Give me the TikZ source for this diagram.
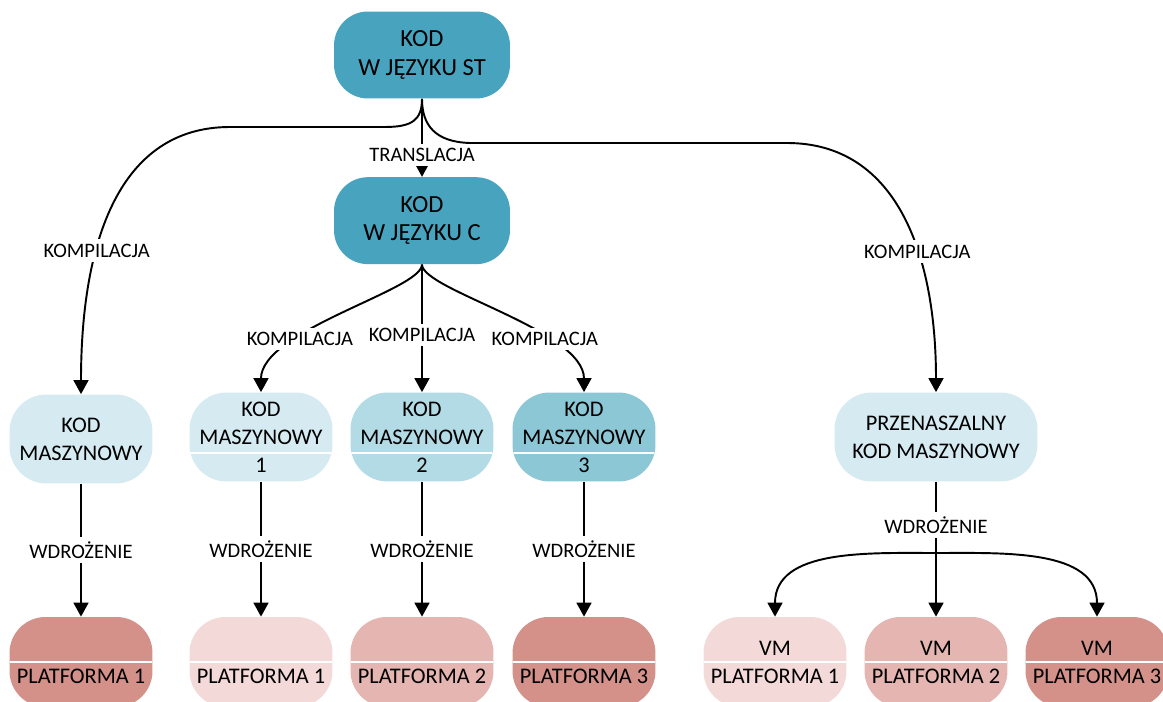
\documentclass[tikz,border=0pt]{standalone}
\usepackage{fontspec}
\setmainfont{Carlito}
\usetikzlibrary{calc, positioning, arrows.meta}

\definecolor{stteal}{HTML}{48A3BE}
\definecolor{mcodeA}{HTML}{D5EAF1}
\definecolor{mcodeB}{HTML}{B3DBE5}
\definecolor{mcodeC}{HTML}{8CC7D6}
\definecolor{platA}{HTML}{F3D9D8}
\definecolor{platB}{HTML}{E4B5B1}
\definecolor{platC}{HTML}{D3918A}

\begin{document}
\begin{tikzpicture}[
    x=0.02cm, y=-0.02cm,
    source/.style={
        rectangle,
        rounded corners=0.68cm,
        fill=stteal,
        minimum width=3.52cm,
        minimum height=1.74cm,
        font=\fontsize{14}{16}\selectfont,
        align=center
    },
    mcode/.style={
        rectangle,
        rounded corners=0.74cm,
        minimum width=2.86cm,
        minimum height=1.78cm,
        font=\fontsize{12.7}{16}\selectfont,
        align=center
    },
    platform/.style={
        rectangle,
        rounded corners=0.72cm,
        minimum width=2.86cm,
        minimum height=1.8cm,
        font=\fontsize{12.7}{16}\selectfont,
        align=center
    },
    divider/.style={
        path picture={\draw[white, line width=1.3pt]
            ([yshift=#1]path picture bounding box.west) --
            ([yshift=#1]path picture bounding box.east);}
    },
    lbl/.style={fill=white, inner sep=2.5pt, font=\fontsize{11.7}{14}\selectfont},
    flow/.style={->, >={Triangle[width=8.5pt,length=8pt]}, line width=1.1pt}
]
\useasboundingbox (0,0) rectangle (1163,702);
\clip (0,0) rectangle (1163,702);

% Source code
\node[source] (st) at (422,55) {KOD\\W JĘZYKU ST};
\node[source, below=1.56cm of st] (cc) {KOD\\W JĘZYKU C};

% Machine code
\node[mcode, fill=mcodeA] (km0) at (81,439) {KOD\\MASZYNOWY};
\node[mcode, fill=mcodeA, divider=-0.32cm] (km1) at (261,437) {KOD\\MASZYNOWY\\1};
\node[mcode, fill=mcodeB, divider=-0.32cm] (km2) at (422,437) {KOD\\MASZYNOWY\\2};
\node[mcode, fill=mcodeC, divider=-0.32cm] (km3) at (584,437) {KOD\\MASZYNOWY\\3};
\node[mcode, fill=mcodeA, minimum width=4.06cm] (pm) at (936,437) {PRZENASZALNY\\KOD MASZYNOWY};

% Platforms
\node[platform, fill=platC, divider=0cm] (pl0) at (81,662) {\vphantom{VM}\\PLATFORMA 1};
\node[platform, fill=platA, divider=0cm] (pl1) at (261,662) {\vphantom{VM}\\PLATFORMA 1};
\node[platform, fill=platB, divider=0cm] (pl2) at (422,662) {\vphantom{VM}\\PLATFORMA 2};
\node[platform, fill=platC, divider=0cm] (pl3) at (584,662) {\vphantom{VM}\\PLATFORMA 3};

\node[platform, fill=platA, divider=0cm] (vm1) at (775,662) {VM\\PLATFORMA 1};
\node[platform, fill=platB, divider=0cm] (vm2) at (936,662) {VM\\PLATFORMA 2};
\node[platform, fill=platC, divider=0cm] (vm3) at (1097,662) {VM\\PLATFORMA 3};

% Compilation from ST
\draw[flow] (st.south) .. controls (422,120) and (412,127) .. (385,127) -- (230,127)
    .. controls (120,127) and (81,240) .. node[lbl, pos=0.65] (k0) {KOMPILACJA} (km0.north);
\draw[flow] (st.south) .. controls (422,125) and (435,142) .. (470,143) -- (787,143)
    .. controls (897,143) and (936,255) .. node[lbl, pos=0.62] (k4) {KOMPILACJA} (pm.north);

% Translation
\draw[flow] (st.south) -- node[lbl, pos=0.72] (tr) {TRANSLACJA} (cc.north);

% Compilation from C
\draw[flow] (cc.south) .. controls (422,290) and (261,330) ..
    node[lbl, pos=0.68] (k1) {KOMPILACJA} (km1.north);
\draw[flow] (cc.south) -- node[lbl, pos=0.55] (k2) {KOMPILACJA} (km2.north);
\draw[flow] (cc.south) .. controls (422,290) and (584,330) ..
    node[lbl, pos=0.68] (k3) {KOMPILACJA} (km3.north);

% Deployment
\foreach \i in {0,...,3}
    \draw[flow] (km\i.south) -- node[lbl] (w\i) {WDROŻENIE} (pl\i.north);

\draw[flow] (pm.south) -- node[lbl, pos=0.32] (w4) {WDROŻENIE} (vm2.north);
\coordinate (fork) at (936,553);
\draw[flow] (fork) to[out=180, in=90] (vm1.north);
\draw[flow] (fork) to[out=0, in=90] (vm3.north);
\end{tikzpicture}
\end{document}
